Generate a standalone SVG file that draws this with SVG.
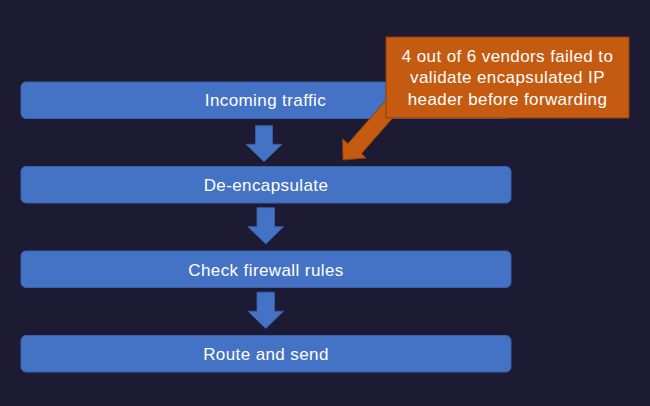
<svg xmlns="http://www.w3.org/2000/svg" width="650" height="406" viewBox="0 0 650 406">
  <style>
    .box { fill: #4472C4; stroke: #3A62AC; stroke-width: 1; }
    .lbl { font-family: "Liberation Sans", Arial, sans-serif; font-size: 17px; fill: #FFFFFF; text-anchor: middle; letter-spacing: 0.4px; }
    .flow { fill: #4472C4; stroke: #3A62AC; stroke-width: 0.8; }
    .note { fill: #C55A11; stroke: #8E3F0C; stroke-width: 1; }
  </style>
  <rect width="650" height="406" fill="#1D1A33"/>

  <g id="node-incoming">
    <rect class="box" x="21" y="82" width="490" height="36.5" rx="5"/>
    <text class="lbl" x="265.5" y="106">Incoming traffic</text>
  </g>
  <g id="node-deencap">
    <rect class="box" x="21" y="166.5" width="490" height="36.5" rx="5"/>
    <text class="lbl" x="266" y="191">De-encapsulate</text>
  </g>
  <g id="node-firewall">
    <rect class="box" x="21" y="251" width="490" height="36.5" rx="5"/>
    <text class="lbl" x="266" y="275.5">Check firewall rules</text>
  </g>
  <g id="node-route">
    <rect class="box" x="21" y="335.5" width="490" height="36.5" rx="5"/>
    <text class="lbl" x="266" y="360">Route and send</text>
  </g>

  <g id="connectors">
    <polygon class="flow" points="255.5,125.7 272.5,125.7 272.5,144.3 282,144.3 264,161.7 246,144.3 255.5,144.3"/>
    <polygon class="flow" points="257,207.7 274.5,207.7 274.5,226.7 283.5,226.7 265.8,244 248,226.7 257,226.7"/>
    <polygon class="flow" points="257,292.2 274.5,292.2 274.5,311.2 283.5,311.2 265.8,328.5 248,311.2 257,311.2"/>
    <polygon class="note" points="394.2,91 407.7,101 361.5,153.5 366,158 343,160 342.5,139 348,143.5"/>
  </g>

  <g id="node-callout">
    <rect class="note" x="386" y="37" width="243" height="81"/>
    <text class="lbl" x="507.5" y="61.5">4 out of 6 vendors failed to</text>
    <text class="lbl" x="507.5" y="83">validate encapsulated IP</text>
    <text class="lbl" x="507.5" y="104.5">header before forwarding</text>
  </g>
</svg>
